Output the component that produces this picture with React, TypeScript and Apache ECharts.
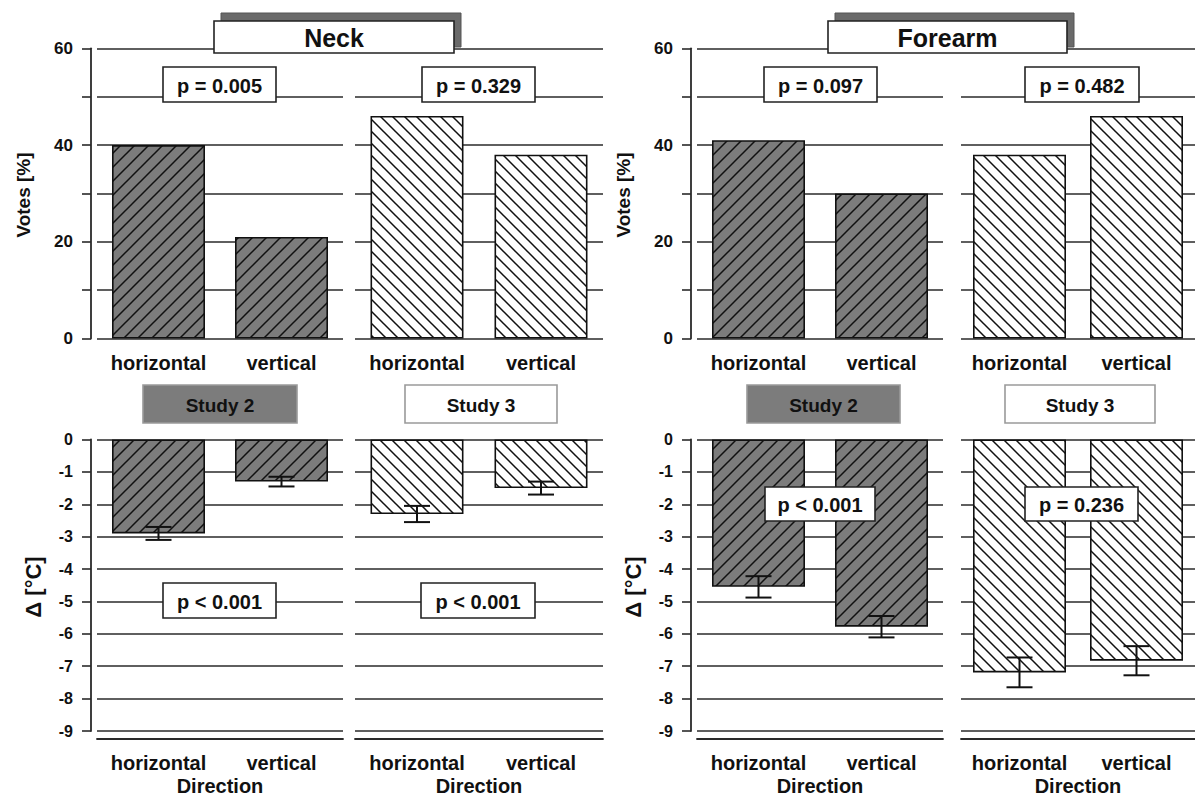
import React, { useEffect, useRef } from 'react';
import * as echarts from 'echarts';

// ---------- data ----------
const categories = ['horizontal', 'vertical'];
const votesTickLabels = [0, 20, 40, 60];
const panelTitles = ['Neck', 'Forearm'];
const studyNames = ['Study 2', 'Study 3'];

const neckVotesStudy2 = [40, 21];
const neckVotesStudy3 = [46, 38];
const forearmVotesStudy2 = [41, 30];
const forearmVotesStudy3 = [38, 46];

const neckDeltaStudy2 = [-2.9, -1.3];
const neckDeltaStudy2Err = [0.2, 0.15];
const neckDeltaStudy3 = [-2.3, -1.5];
const neckDeltaStudy3Err = [0.25, 0.2];
const forearmDeltaStudy2 = [-4.55, -5.78];
const forearmDeltaStudy2Err = [0.33, 0.33];
const forearmDeltaStudy3 = [-7.19, -6.83];
const forearmDeltaStudy3Err = [0.46, 0.45];

const neckVotesP = ['p = 0.005', 'p = 0.329'];
const forearmVotesP = ['p = 0.097', 'p = 0.482'];
const neckDeltaP = ['p < 0.001', 'p < 0.001'];
const forearmDeltaP = ['p < 0.001', 'p = 0.236'];

// ---------- layout ----------
const FONT = "'Liberation Sans', Arial, Helvetica, sans-serif";
const LINE = '#2a2a2a';
const DARK = '#7c7c7c';

const gridX = [
  { left: 97, width: 246 },
  { left: 355, width: 248 },
  { left: 697, width: 246 },
  { left: 961, width: 244 },
];
const TOP_Y = 48.3;
const TOP_H = 290.2;
const BOT_Y = 439.5;
const BOT_H = 291.5;

function makeHatch(bg: string, dir: 'fwd' | 'back', s: number) {
  const c = document.createElement('canvas');
  c.width = s;
  c.height = s;
  const ctx = c.getContext('2d') as CanvasRenderingContext2D;
  ctx.fillStyle = bg;
  ctx.fillRect(0, 0, s, s);
  ctx.strokeStyle = '#111';
  ctx.lineWidth = 1.5;
  ctx.beginPath();
  if (dir === 'fwd') {
    ctx.moveTo(-1, s + 1);
    ctx.lineTo(s + 1, -1);
    ctx.moveTo(-3, 3);
    ctx.lineTo(3, -3);
    ctx.moveTo(s - 3, s + 3);
    ctx.lineTo(s + 3, s - 3);
  } else {
    ctx.moveTo(-1, -1);
    ctx.lineTo(s + 1, s + 1);
    ctx.moveTo(-3, s - 3);
    ctx.lineTo(3, s + 3);
    ctx.moveTo(s - 3, -3);
    ctx.lineTo(s + 3, 3);
  }
  ctx.stroke();
  return { image: c, repeat: 'repeat', imageWidth: s, imageHeight: s } as any;
}

function boxWithText(x: number, y: number, w: number, h: number, text: string, fill: string, stroke: string, fontSize: number) {
  return {
    type: 'group',
    children: [
      { type: 'rect', shape: { x, y, width: w, height: h }, style: { fill, stroke, lineWidth: 1.6 }, z: 100 },
      {
        type: 'text',
        x: x + w / 2,
        y: y + h / 2 + 1,
        z: 101,
        style: { text, align: 'center', verticalAlign: 'middle', font: `bold ${fontSize}px ${FONT}`, fill: '#111' },
      },
    ],
  };
}

export default function App() {
  const ref = useRef<HTMLDivElement>(null);

  useEffect(() => {
    document.body.style.margin = '0';
    if (!ref.current) return;
    const chart = echarts.init(ref.current, undefined, { renderer: 'svg' });

    const hatchDark = makeHatch(DARK, 'fwd', 14);
    const hatchLight = makeHatch('#ffffff', 'back', 12);

    const grids: any[] = [];
    const xAxes: any[] = [];
    const yAxes: any[] = [];
    const series: any[] = [];

    const votesData = [neckVotesStudy2, neckVotesStudy3, forearmVotesStudy2, forearmVotesStudy3];
    const deltaData = [neckDeltaStudy2, neckDeltaStudy3, forearmDeltaStudy2, forearmDeltaStudy3];
    const deltaErr = [neckDeltaStudy2Err, neckDeltaStudy3Err, forearmDeltaStudy2Err, forearmDeltaStudy3Err];

    const labelStyle = { fontFamily: FONT, fontWeight: 'bold', color: '#111' };

    // top grids (votes)
    for (let i = 0; i < 4; i++) {
      grids.push({ left: gridX[i].left, width: gridX[i].width, top: TOP_Y, height: TOP_H });
      const showAxis = i % 2 === 0;
      xAxes.push({
        type: 'category',
        gridIndex: i,
        data: categories,
        axisLine: { show: false },
        axisTick: { show: false },
        axisLabel: { ...labelStyle, fontSize: 20, margin: 14, interval: 0 },
      });
      yAxes.push({
        type: 'value',
        gridIndex: i,
        min: 0,
        max: 60,
        interval: 10,
        offset: 6,
        axisLine: { show: showAxis, lineStyle: { color: LINE, width: 1.8 } },
        axisTick: { show: showAxis, length: 9, lineStyle: { color: LINE, width: 1.6 } },
        axisLabel: {
          show: showAxis,
          ...labelStyle,
          fontSize: 17,
          margin: 18,
          formatter: (v: number) => (votesTickLabels.includes(v) ? String(v) : ''),
        },
        splitLine: { show: true, lineStyle: { color: LINE, width: 1.6 } },
      });
      series.push({
        type: 'bar',
        name: studyNames[i % 2],
        xAxisIndex: i,
        yAxisIndex: i,
        data: votesData[i],
        barWidth: 93,
        itemStyle: {
          color: i % 2 === 0 ? hatchDark : hatchLight,
          borderColor: '#111',
          borderWidth: 1.6,
        },
      });
    }

    // bottom grids (delta)
    for (let i = 0; i < 4; i++) {
      const gi = i + 4;
      grids.push({ left: gridX[i].left, width: gridX[i].width, top: BOT_Y, height: BOT_H });
      const showAxis = i % 2 === 0;
      xAxes.push({
        type: 'category',
        gridIndex: gi,
        data: categories,
        position: 'bottom',
        offset: 8,
        name: 'Direction',
        nameLocation: 'middle',
        nameGap: 37,
        nameTextStyle: { ...labelStyle, fontSize: 20, verticalAlign: 'top' },
        axisLine: { show: true, onZero: false, lineStyle: { color: LINE, width: 1.8 } },
        axisTick: { show: false },
        axisLabel: { ...labelStyle, fontSize: 20, margin: 14, interval: 0 },
      });
      yAxes.push({
        type: 'value',
        gridIndex: gi,
        min: -9,
        max: 0,
        interval: 1,
        offset: 6,
        axisLine: { show: showAxis, lineStyle: { color: LINE, width: 1.8 } },
        axisTick: { show: showAxis, length: 9, lineStyle: { color: LINE, width: 1.6 } },
        axisLabel: { show: showAxis, ...labelStyle, fontSize: 16, margin: 18 },
        splitLine: { show: true, lineStyle: { color: LINE, width: 1.6 } },
      });
      series.push({
        type: 'bar',
        name: studyNames[i % 2],
        xAxisIndex: gi,
        yAxisIndex: gi,
        data: deltaData[i],
        barWidth: 93,
        itemStyle: {
          color: i % 2 === 0 ? hatchDark : hatchLight,
          borderColor: '#111',
          borderWidth: 1.6,
        },
      });
      series.push({
        type: 'custom',
        xAxisIndex: gi,
        yAxisIndex: gi,
        z: 10,
        encode: { x: 0, y: 1 },
        data: deltaData[i].map((v, k) => [k, v, deltaErr[i][k]]),
        renderItem: (params: any, api: any) => {
          const idx = api.value(0);
          const mean = api.value(1);
          const err = api.value(2);
          const hi = api.coord([idx, mean + err]);
          const lo = api.coord([idx, mean - err]);
          const half = 13;
          const st = { stroke: '#111', lineWidth: 2 };
          return {
            type: 'group',
            children: [
              { type: 'line', shape: { x1: hi[0], y1: hi[1], x2: lo[0], y2: lo[1] }, style: st },
              { type: 'line', shape: { x1: hi[0] - half, y1: hi[1], x2: hi[0] + half, y2: hi[1] }, style: st },
              { type: 'line', shape: { x1: lo[0] - half, y1: lo[1], x2: lo[0] + half, y2: lo[1] }, style: st },
            ],
          };
        },
      });
    }

    const pTop = [neckVotesP, forearmVotesP];
    const pBot = [neckDeltaP, forearmDeltaP];
    const graphic: any[] = [];

    // panel titles with shadow
    const titleBoxes = [
      { x: 214, w: 240 },
      { x: 828, w: 239 },
    ];
    titleBoxes.forEach((b, k) => {
      graphic.push({
        type: 'rect',
        shape: { x: b.x + 7, y: 13, width: b.w, height: 34 },
        style: { fill: '#6a6a6a', stroke: '#555', lineWidth: 1 },
        z: 99,
      });
      graphic.push(boxWithText(b.x, 21, b.w, 32, panelTitles[k], '#ffffff', '#222', 25));
    });

    // p-value boxes, top charts
    const pTopBoxes = [
      { x: 163, w: 113 },
      { x: 422, w: 113 },
      { x: 764, w: 113 },
      { x: 1025, w: 114 },
    ];
    pTopBoxes.forEach((b, i) => {
      graphic.push(boxWithText(b.x, 67, b.w, 35, pTop[Math.floor(i / 2)][i % 2], '#ffffff', '#222', 20));
    });

    // p-value boxes, bottom charts
    const pBotBoxes = [
      { x: 163, y: 583, w: 113, h: 35 },
      { x: 421, y: 583, w: 114, h: 35 },
      { x: 765, y: 487, w: 110, h: 34 },
      { x: 1025, y: 487, w: 113, h: 34 },
    ];
    pBotBoxes.forEach((b, i) => {
      graphic.push(boxWithText(b.x, b.y, b.w, b.h, pBot[Math.floor(i / 2)][i % 2], '#ffffff', '#222', 20));
    });

    // study legend boxes
    const studyBoxes = [
      { x: 143, w: 154 },
      { x: 405, w: 152 },
      { x: 747, w: 153 },
      { x: 1005, w: 150 },
    ];
    studyBoxes.forEach((b, i) => {
      const dark = i % 2 === 0;
      graphic.push(
        boxWithText(b.x, 385, b.w, 38, studyNames[i % 2], dark ? DARK : '#ffffff', '#9a9a9a', 19)
      );
    });

    // axis names
    [0, 600].forEach((dx) => {
      graphic.push({
        type: 'text',
        x: 23 + dx,
        y: 195,
        rotation: Math.PI / 2,
        style: { text: 'Votes [%]', align: 'center', verticalAlign: 'middle', font: `bold 19px ${FONT}`, fill: '#111' },
      });
      graphic.push({
        type: 'text',
        x: 33 + dx,
        y: 587,
        rotation: Math.PI / 2,
        style: { text: 'Δ [°C]', align: 'center', verticalAlign: 'middle', font: `bold 22px ${FONT}`, fill: '#111' },
      });
    });

    chart.setOption({
      animation: false,
      backgroundColor: '#ffffff',
      grid: grids,
      xAxis: xAxes,
      yAxis: yAxes,
      series,
      graphic,
    });

    return () => chart.dispose();
  }, []);

  return <div ref={ref} style={{ width: 1195, height: 797 }} />;
}
